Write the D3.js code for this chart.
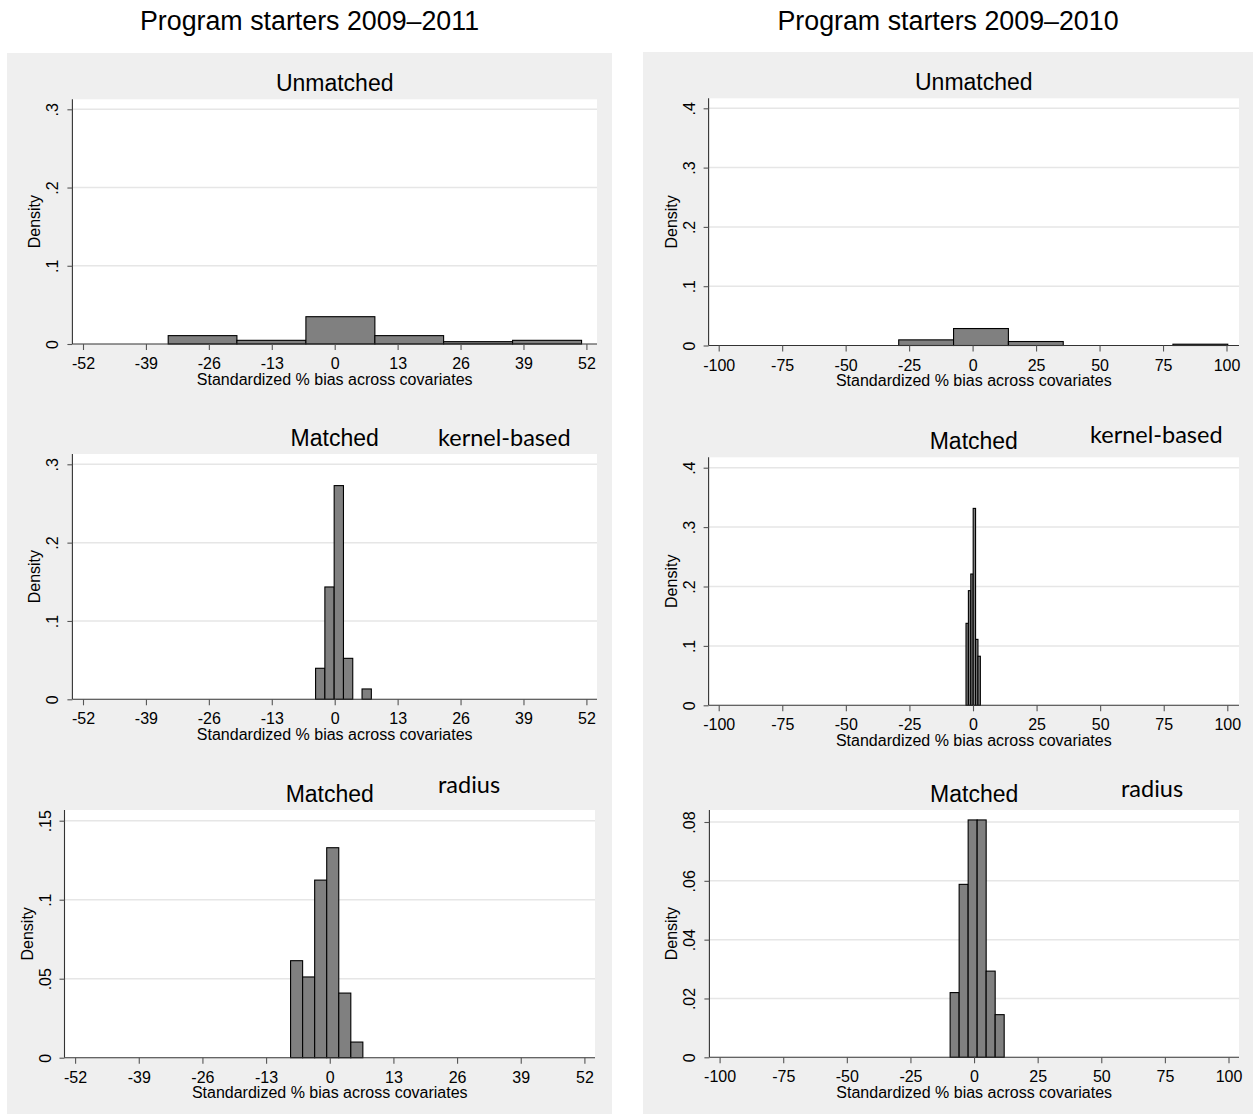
<!DOCTYPE html>
<html>
<head>
<meta charset="utf-8">
<script src="https://cdn.jsdelivr.net/npm/d3@7"></script>
<style>
  html, body { margin: 0; padding: 0; background: #ffffff; }
  svg { display: block; }
  .stata { font-family: "Liberation Sans", Arial, sans-serif; fill: #000; }
  .note { font-family: Lato, "Open Sans", sans-serif; fill: #000; }
</style>
</head>
<body>
<svg id="chart" width="1253" height="1114"></svg>
<script>
// ---- column headings ----
const columnTitles = ["Program starters 2009\u20132011", "Program starters 2009\u20132010"];

// ---- tick values and labels ----
const xTicksLeft = [-52, -39, -26, -13, 0, 13, 26, 39, 52];
const xTicksRight = [-100, -75, -50, -25, 0, 25, 50, 75, 100];
const yTicksA = [0, 0.1, 0.2, 0.3];
const yTicksB = [0, 0.1, 0.2, 0.3, 0.4];
const yTicksC = [0, 0.05, 0.1, 0.15];
const yTicksD = [0, 0.02, 0.04, 0.06, 0.08];
const yLabelsA = ["0", ".1", ".2", ".3"];
const yLabelsB = ["0", ".1", ".2", ".3", ".4"];
const yLabelsC = ["0", ".05", ".1", ".15"];
const yLabelsD = ["0", ".02", ".04", ".06", ".08"];

// ---- histogram bins: edges (standardized % bias) and densities ----
// 2009-2011, unmatched
const unmatched11Edges = [-34.4, -20.2, -5.95, 8.3, 22.5, 36.75, 51.0];
const unmatched11Density = [0.0107, 0.0047, 0.0349, 0.0107, 0.0030, 0.0047];
// 2009-2010, unmatched
const unmatched10Edges = [-29.1, -7.5, 14.1, 35.7, 57.3, 78.9, 100.5];
const unmatched10Density = [0.0095, 0.0286, 0.0067, 0, 0, 0.0022];
// 2009-2011, matched (kernel-based)
const kernel11Edges = [-3.95, -2.03, -0.11, 1.81, 3.73, 5.65, 7.57];
const kernel11Density = [0.0396, 0.1434, 0.2728, 0.0523, 0, 0.0132];
// 2009-2010, matched (kernel-based)
const kernel10Edges = [-2.75, -1.81, -0.87, 0.07, 1.01, 1.95, 2.89];
const kernel10Density = [0.138, 0.193, 0.221, 0.3315, 0.111, 0.0826];
// 2009-2011, matched (radius)
const radius11Edges = [-8.0, -5.54, -3.08, -0.62, 1.84, 4.30, 6.76];
const radius11Density = [0.0614, 0.0511, 0.1124, 0.1329, 0.0409, 0.0099];
// 2009-2010, matched (radius)
const radius10Edges = [-9.4, -5.86, -2.32, 1.22, 4.76, 8.3, 11.84];
const radius10Density = [0.022, 0.0588, 0.0807, 0.0807, 0.0293, 0.0145];

const svg = d3.select("#chart");

// column backgrounds
const columns = [
  { x0: 7, x1: 612, top: 53, title: columnTitles[0] },
  { x0: 643, x1: 1253, top: 52, title: columnTitles[1] }
];
columns.forEach(c => {
  svg.append("rect").attr("x", c.x0).attr("y", c.top)
    .attr("width", c.x1 - c.x0).attr("height", 1114 - c.top)
    .attr("fill", "#efefef");
  svg.append("text").attr("class", "stata")
    .attr("x", (c.x0 + c.x1) / 2).attr("y", 30)
    .attr("text-anchor", "middle").attr("font-size", 26.8)
    .text(c.title);
});

// panel frames
const panels = [
  { edges: unmatched11Edges, dens: unmatched11Density, xt: xTicksLeft, yt: yTicksA, yl: yLabelsA,
    axisX: 72.4, right: 597, top: 99.3, base: 344, xr: [83, 586.4], ytopPx: 109.3,
    title: "Unmatched", note: null },
  { edges: unmatched10Edges, dens: unmatched10Density, xt: xTicksRight, yt: yTicksB, yl: yLabelsB,
    axisX: 708.6, right: 1239, top: 98.3, base: 345.5, xr: [718.7, 1226.5], ytopPx: 108.3,
    title: "Unmatched", note: null },
  { edges: kernel11Edges, dens: kernel11Density, xt: xTicksLeft, yt: yTicksA, yl: yLabelsA,
    axisX: 72.4, right: 597, top: 454, base: 699.3, xr: [83, 586.4], ytopPx: 464.3,
    title: "Matched", note: { text: "kernel-based", x: 438, y: 446 } },
  { edges: kernel10Edges, dens: kernel10Density, xt: xTicksRight, yt: yTicksB, yl: yLabelsB,
    axisX: 708.6, right: 1239, top: 457.3, base: 705.3, xr: [718.7, 1227.3], ytopPx: 467.7,
    title: "Matched", note: { text: "kernel-based", x: 1090, y: 443 } },
  { edges: radius11Edges, dens: radius11Density, xt: xTicksLeft, yt: yTicksC, yl: yLabelsC,
    axisX: 64.5, right: 595, top: 810, base: 1057.7, xr: [75.1, 584.4], ytopPx: 820.7,
    title: "Matched", note: { text: "radius", x: 438, y: 793 } },
  { edges: radius10Edges, dens: radius10Density, xt: xTicksRight, yt: yTicksD, yl: yLabelsD,
    axisX: 709.4, right: 1239, top: 810, base: 1057.3, xr: [719.6, 1228.5], ytopPx: 822,
    title: "Matched", note: { text: "radius", x: 1121, y: 797 } }
];

panels.forEach(p => {
  const g = svg.append("g");
  const xMin = p.xt[0], xMax = p.xt[p.xt.length - 1];
  const yMax = p.yt[p.yt.length - 1];
  const x = d3.scaleLinear().domain([xMin, xMax]).range(p.xr);
  const y = d3.scaleLinear().domain([0, yMax]).range([p.base, p.ytopPx]);

  // white plot region
  g.append("rect").attr("x", p.axisX).attr("y", p.top)
    .attr("width", p.right - p.axisX).attr("height", p.base - p.top)
    .attr("fill", "#ffffff");

  // horizontal grid lines
  g.selectAll("line.grid").data(p.yt.filter(v => v > 0)).join("line")
    .attr("class", "grid")
    .attr("x1", p.axisX).attr("x2", p.right)
    .attr("y1", d => y(d)).attr("y2", d => y(d))
    .attr("stroke", "#e6e6e6").attr("stroke-width", 1.5);

  // histogram bars
  const bins = p.dens.map((d, i) => ({ x0: p.edges[i], x1: p.edges[i + 1], d }))
    .filter(b => b.d > 0);
  g.selectAll("rect.bar").data(bins).join("rect")
    .attr("class", "bar")
    .attr("x", b => x(b.x0)).attr("width", b => x(b.x1) - x(b.x0))
    .attr("y", b => y(b.d)).attr("height", b => p.base - y(b.d))
    .attr("fill", "#808080").attr("stroke", "#000").attr("stroke-width", 1.1);

  // axis lines
  g.append("line").attr("x1", p.axisX).attr("x2", p.axisX)
    .attr("y1", p.top).attr("y2", p.base)
    .attr("stroke", "#333").attr("stroke-width", 1.1);
  g.append("line").attr("x1", p.axisX).attr("x2", p.right)
    .attr("y1", p.base).attr("y2", p.base)
    .attr("stroke", "#333").attr("stroke-width", 1.1);

  // x axis
  const xa = g.append("g").attr("transform", `translate(0,${p.base})`)
    .call(d3.axisBottom(x).tickValues(p.xt).tickFormat(d3.format("d")).tickSize(6).tickSizeOuter(0));
  xa.select(".domain").remove();
  xa.selectAll(".tick line").attr("stroke", "#555").attr("stroke-width", 1.1);
  xa.selectAll(".tick text").attr("class", "stata").attr("font-size", 16)
    .attr("font-family", null).attr("y", 25).attr("dy", null)
    .text(d => d3.format("d")(d).replace("\u2212", "-"));

  // y axis with vertical labels
  const ya = g.append("g").attr("transform", `translate(${p.axisX},0)`)
    .call(d3.axisLeft(y).tickValues(p.yt).tickFormat((d, i) => p.yl[i]).tickSize(5).tickSizeOuter(0));
  ya.select(".domain").remove();
  ya.selectAll(".tick line").attr("stroke", "#555").attr("stroke-width", 1.1);
  ya.selectAll(".tick text").attr("class", "stata").attr("font-size", 16)
    .attr("font-family", null)
    .attr("x", null).attr("dy", null)
    .attr("text-anchor", "middle")
    .attr("transform", "translate(-14,0) rotate(-90)");

  // axis titles
  g.append("text").attr("class", "stata").attr("font-size", 16)
    .attr("text-anchor", "middle")
    .attr("x", (p.axisX + p.right) / 2).attr("y", p.base + 40.5)
    .text("Standardized % bias across covariates");
  g.append("text").attr("class", "stata").attr("font-size", 16)
    .attr("text-anchor", "middle")
    .attr("transform", `translate(${p.axisX - 32},${(p.top + p.base) / 2}) rotate(-90)`)
    .text("Density");

  // panel title
  g.append("text").attr("class", "stata").attr("font-size", 23)
    .attr("text-anchor", "middle")
    .attr("x", (p.axisX + p.right) / 2).attr("y", p.top - 8.5)
    .text(p.title);

  // matching method note
  if (p.note) {
    g.append("text").attr("class", "note").attr("font-size", 23.5)
      .attr("x", p.note.x).attr("y", p.note.y)
      .text(p.note.text);
  }
});
</script>
</body>
</html>
